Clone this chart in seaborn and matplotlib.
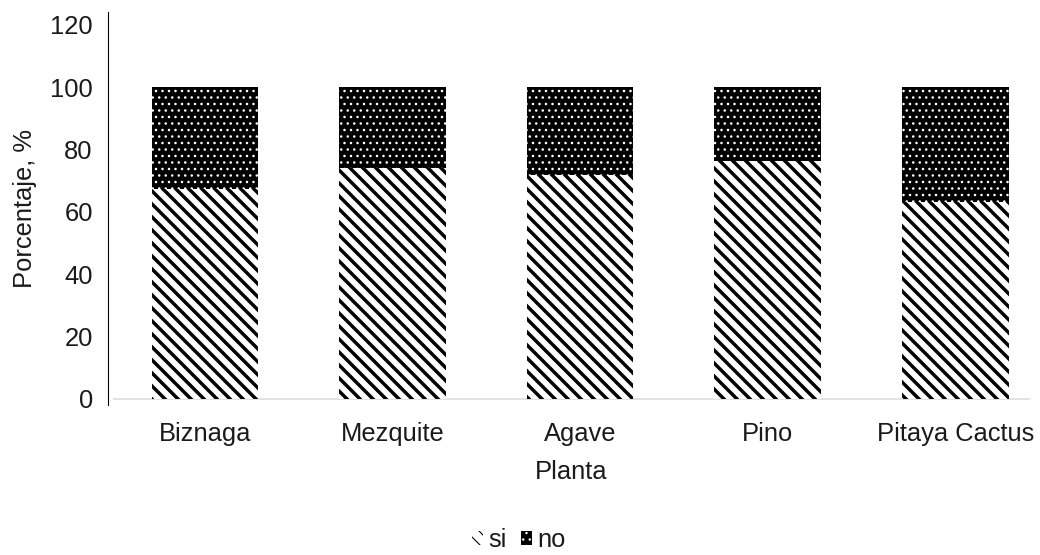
import matplotlib
matplotlib.use("Agg")
import matplotlib.pyplot as plt
from matplotlib.patches import Patch
import seaborn as sns

plantas = ["Biznaga", "Mezquite", "Agave", "Pino", "Pitaya Cactus"]
si = [67.4, 74.2, 71.9, 76.4, 63.1]
no = [100 - v for v in si]
y_ticks = [0, 20, 40, 60, 80, 100, 120]

sns.set_theme(style="white")
plt.rcParams["font.family"] = ["Liberation Sans", "DejaVu Sans"]

DPI = 78
W, H = 1040, 555
FS = 23.5
TXT = "#1a1a1a"

fig = plt.figure(figsize=(W / DPI, H / DPI), dpi=DPI)
ax = fig.add_axes([113 / W, 1 - 405 / H, (1030 - 113) / W, (405 - 12) / H])

totals = [a + b for a, b in zip(si, no)]

def style_new(patches, face, hatch, hlw, edge):
    for p in patches:
        p.set_facecolor(face)
        p.set_edgecolor(edge)
        p.set_hatch(hatch)
        p.set_linewidth(0)
        if hasattr(p, "set_hatch_linewidth"):
            p.set_hatch_linewidth(hlw)

# full stack in black with white dots ("no"), then "si" drawn over its lower part
with plt.rc_context({"hatch.linewidth": 1.1}):
    sns.barplot(x=plantas, y=totals, color="black", width=0.568, ax=ax,
                saturation=1, errorbar=None)
    style_new(list(ax.patches), "black", "..", 1.1, "white")
n_before = len(ax.patches)
with plt.rc_context({"hatch.linewidth": 3.2}):
    sns.barplot(x=plantas, y=si, color="white", width=0.568, ax=ax,
                saturation=1, errorbar=None)
    style_new(list(ax.patches)[n_before:], "white", "\\\\", 3.2, "black")

ax.set_xlim(-0.49, (1030 - 205) / 187.6)
ax.set_ylim(-(405 - 399) / 3.117, (399 - 12) / 3.117)
ax.set_yticks(y_ticks)
ax.set_yticklabels([str(t) for t in y_ticks])

for s in ["top", "right", "bottom"]:
    ax.spines[s].set_visible(False)
ax.spines["left"].set_color("black")
ax.spines["left"].set_linewidth(1.0)
ax.spines["left"].set_position(("outward", 4.6))
ax.axhline(0, color="#d9d9d9", lw=1.4, zorder=0.5)

ax.tick_params(axis="both", length=0, labelsize=FS, colors=TXT)
ax.tick_params(axis="x", pad=16)
ax.tick_params(axis="y", pad=14)

ax.set_xlabel("Planta", fontsize=FS, color=TXT, labelpad=13)
ax.set_ylabel("Porcentaje, %", fontsize=FS, color=TXT, labelpad=12)

handles = [
    Patch(facecolor="white", edgecolor="black", hatch="\\\\", linewidth=0, label="si"),
    Patch(facecolor="black", edgecolor="white", hatch="..", linewidth=0, label="no"),
]
leg = fig.legend(handles=handles, loc="center", bbox_to_anchor=(0.499, 1 - 540 / H),
                 ncol=2, frameon=False, fontsize=FS, handlelength=0.45,
                 handleheight=0.45, handletextpad=0.2, columnspacing=0.55,
                 labelcolor=TXT)

fig.savefig("out.png", dpi=DPI)
